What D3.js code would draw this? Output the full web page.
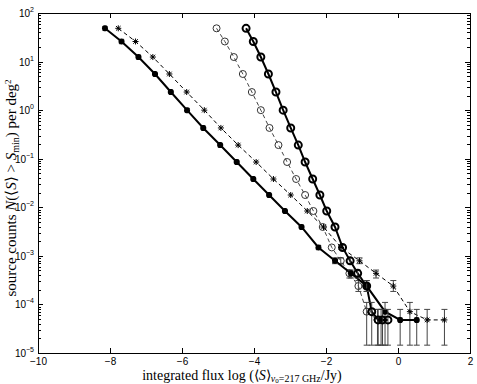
<!DOCTYPE html>
<meta charset="utf-8">
<head>
	<script src="https://d3js.org/d3.v7.min.js"></script>
	<style>
		body {
			margin: 0;
			background: #fff;
		}
		.tick text {
			font: 10px "Liberation Sans", sans-serif;
			fill: #000;
		}
		.axis path,
		.axis line {
			fill: none;
			stroke: #000;
			shape-rendering: crispEdges;
		}
		.title {
			font-family: "Liberation Serif", serif;
			font-size: 15px;
			fill: #000;
		}
	</style>
</head>

<body>
	<div id="chart"></div>
</body>

<script type="text/javascript">
	// tick values
	var xTicks = [-10, -8, -6, -4, -2, 0, 2];
	var yTickExp = [-5, -4, -3, -2, -1, 0, 1, 2];

	// series 1: solid line, filled asterisks
	var flux1 = [-8.14, -7.68, -7.21, -6.75, -6.31, -5.86, -5.41, -4.94, -4.48, -4.02, -3.58, -3.14, -2.68, -2.21, -1.75, -1.31, -0.87, -0.36, 0.06, 0.52];
	var counts1 = [48.4, 25.9, 12.4, 5.55, 2.36, 1.0, 0.43, 0.191, 0.0855, 0.0382, 0.0179, 0.00838, 0.00393, 0.00149, 7.9e-4, 4.37e-4, 2.39e-4, 7.1e-5, 4.8e-5, 4.8e-5];

	// series 2: dashed line, thin asterisks
	var flux2 = [-7.77, -7.29, -6.81, -6.35, -5.87, -5.38, -4.92, -4.44, -3.94, -3.46, -2.98, -2.52, -2.07, -1.58, -1.07, -0.61, -0.13, 0.33, 0.81, 1.29];
	var counts2 = [48.4, 25.9, 12.4, 5.55, 2.36, 1.0, 0.43, 0.191, 0.0855, 0.0382, 0.0179, 0.00838, 0.00393, 0.00149, 7.9e-4, 4.37e-4, 2.39e-4, 7.1e-5, 4.8e-5, 4.8e-5];

	// series 3: dashed grey line, open circles
	var flux3 = [-5.04, -4.81, -4.56, -4.31, -4.06, -3.81, -3.57, -3.32, -3.08, -2.83, -2.58, -2.35, -2.09, -1.84, -1.59, -1.35, -1.10, -0.87, -0.57, -0.47];
	var counts3 = [48.4, 25.9, 12.4, 5.55, 2.36, 1.0, 0.43, 0.191, 0.0855, 0.0382, 0.0179, 0.00838, 0.00393, 0.00149, 7.9e-4, 4.37e-4, 2.39e-4, 7.1e-5, 4.8e-5, 4.8e-5];

	// series 4: bold solid line, bold circles
	var flux4 = [-4.22, -4.02, -3.81, -3.60, -3.39, -3.19, -2.98, -2.77, -2.58, -2.37, -2.17, -1.98, -1.75, -1.54, -1.33, -1.12, -0.87, -0.73, -0.55, -0.43, -0.28];
	var counts4 = [48.4, 25.9, 12.4, 5.55, 2.36, 1.0, 0.43, 0.191, 0.0855, 0.0382, 0.0179, 0.00838, 0.00393, 0.00149, 7.9e-4, 4.37e-4, 2.39e-4, 7.1e-5, 4.8e-5, 4.8e-5, 4.8e-5];

	// error bars for the low count levels
	var errCounts = [7.9e-4, 4.37e-4, 2.39e-4, 7.1e-5, 4.8e-5];
	var errLow = [6.9e-4, 3.5e-4, 1.85e-4, 1.45e-5, 1.45e-5];
	var errHigh = [9.1e-4, 5.1e-4, 3.1e-4, 1.1e-4, 7.9e-5];

	var series = [
		{flux: flux3, counts: counts3, line: "#444", width: 1, dash: "4,3", marker: "circle", mcolor: "#333", mwidth: 1},
		{flux: flux2, counts: counts2, line: "#000", width: 1, dash: "4,3", marker: "star", mcolor: "#000", mwidth: 1},
		{flux: flux1, counts: counts1, line: "#000", width: 2, dash: null, marker: "star", mcolor: "#000", mwidth: 2},
		{flux: flux4, counts: counts4, line: "#000", width: 2, dash: null, marker: "circle", mcolor: "#000", mwidth: 2}
	];

	var margin = {top: 13, right: 7, bottom: 31, left: 38},
		width = 477 - margin.left - margin.right,
		height = 384 - margin.top - margin.bottom;

	var svg = d3.select("#chart").append("svg")
		.attr("width", 477)
		.attr("height", 384)
		.append("g")
		.attr("transform", "translate(" + margin.left + "," + margin.top + ")");

	var xScale = d3.scaleLinear().domain([-10, 2]).range([0, width]);
	var yScale = d3.scaleLog().domain([1e-5, 1e2]).range([height, 0]);

	var yMajor = yTickExp.map(function(e) { return Math.pow(10, e); });
	var yMinor = [];
	yTickExp.slice(0, -1).forEach(function(e) {
		for (var k = 2; k < 10; k++) yMinor.push(k * Math.pow(10, e));
	});

	// axes: inward ticks on all four sides
	svg.append("g")
		.attr("class", "x axis")
		.attr("transform", "translate(0," + height + ")")
		.call(d3.axisBottom(xScale).tickValues(xTicks).tickSizeInner(-5).tickSizeOuter(0).tickPadding(5));

	svg.append("g")
		.attr("class", "axis")
		.call(d3.axisTop(xScale).tickValues(xTicks).tickSizeInner(-5).tickSizeOuter(0).tickFormat(""));

	svg.append("g")
		.attr("class", "axis")
		.call(d3.axisLeft(yScale).tickValues(yMajor).tickSizeInner(-5).tickSizeOuter(0).tickFormat(""));
	svg.append("g")
		.attr("class", "axis")
		.call(d3.axisLeft(yScale).tickValues(yMinor).tickSizeInner(-3).tickSizeOuter(0).tickFormat(""));

	svg.append("g")
		.attr("class", "axis")
		.attr("transform", "translate(" + width + ",0)")
		.call(d3.axisRight(yScale).tickValues(yMajor).tickSizeInner(-5).tickSizeOuter(0).tickFormat(""));
	svg.append("g")
		.attr("class", "axis")
		.attr("transform", "translate(" + width + ",0)")
		.call(d3.axisRight(yScale).tickValues(yMinor).tickSizeInner(-3).tickSizeOuter(0).tickFormat(""));

	// y tick labels as 10^e
	var ylab = svg.append("g").selectAll("text")
		.data(yTickExp)
		.enter().append("text")
		.attr("x", -4)
		.attr("y", function(e) { return yScale(Math.pow(10, e)) + 4; })
		.style("text-anchor", "end")
		.style("font", "10px 'Liberation Sans', sans-serif");
	ylab.append("tspan").text("10");
	ylab.append("tspan")
		.attr("dy", -5)
		.style("font-size", "7px")
		.text(function(e) { return e < 0 ? "\u2212" + (-e) : e; });

	// lines
	var line = d3.line()
		.x(function(d) { return xScale(d[0]); })
		.y(function(d) { return yScale(d[1]); });

	series.forEach(function(s) {
		var pts = s.flux.map(function(f, i) { return [f, s.counts[i]]; });

		svg.append("path")
			.datum(pts)
			.attr("d", line)
			.style("fill", "none")
			.style("stroke", s.line)
			.style("stroke-width", s.width)
			.style("stroke-dasharray", s.dash);

		// error bars
		var eb = svg.append("g")
			.selectAll("g")
			.data(pts.filter(function(d) { return errCounts.indexOf(d[1]) >= 0; }))
			.enter().append("g")
			.style("stroke", "#444")
			.style("stroke-width", 1);
		eb.append("line")
			.attr("x1", function(d) { return xScale(d[0]); })
			.attr("x2", function(d) { return xScale(d[0]); })
			.attr("y1", function(d) { return yScale(errLow[errCounts.indexOf(d[1])]); })
			.attr("y2", function(d) { return yScale(errHigh[errCounts.indexOf(d[1])]); });
		[errLow, errHigh].forEach(function(arr) {
			eb.append("line")
				.attr("x1", function(d) { return xScale(d[0]) - 3; })
				.attr("x2", function(d) { return xScale(d[0]) + 3; })
				.attr("y1", function(d) { return yScale(arr[errCounts.indexOf(d[1])]); })
				.attr("y2", function(d) { return yScale(arr[errCounts.indexOf(d[1])]); });
		});

		// markers
		var m = svg.append("g")
			.selectAll("g")
			.data(pts)
			.enter().append("g")
			.attr("transform", function(d) { return "translate(" + xScale(d[0]) + "," + yScale(d[1]) + ")"; });
		if (s.marker == "circle") {
			m.append("circle")
				.attr("r", 3.5)
				.style("fill", "none")
				.style("stroke", s.mcolor)
				.style("stroke-width", s.mwidth);
		} else {
			m.append("path")
				.attr("d", "M-3,0H3M0,-3V3M-2.3,-2.3L2.3,2.3M-2.3,2.3L2.3,-2.3")
				.style("fill", "none")
				.style("stroke", s.mcolor)
				.style("stroke-width", s.mwidth);
		}
	});

	// axis titles
	var xt = svg.append("text")
		.attr("class", "title")
		.attr("x", width / 2 - 12)
		.attr("y", height + 27)
		.style("text-anchor", "middle")
		.style("font-size", "14px");
	xt.append("tspan").text("integrated flux log (\u27e8");
	xt.append("tspan").style("font-style", "italic").text("S");
	xt.append("tspan").text("\u27e9");
	xt.append("tspan").attr("dy", 1.5).style("font-size", "10px").style("font-style", "italic").text("\u03bd");
	xt.append("tspan").attr("dy", 1).style("font-size", "7px").text("0");
	xt.append("tspan").attr("dy", -1).style("font-size", "10px").text("=217 GHz");
	xt.append("tspan").attr("dy", -1.5).text("/Jy)");

	var yt = svg.append("text")
		.attr("class", "title")
		.attr("transform", "translate(-22," + (height / 2 + 5) + ")rotate(-90)")
		.style("text-anchor", "middle");
	yt.append("tspan").text("source counts ");
	yt.append("tspan").style("font-style", "italic").text("N");
	yt.append("tspan").text("(\u27e8");
	yt.append("tspan").style("font-style", "italic").text("S");
	yt.append("tspan").text("\u27e9 > ");
	yt.append("tspan").style("font-style", "italic").text("S");
	yt.append("tspan").attr("dy", 3).style("font-size", "10px").text("min");
	yt.append("tspan").attr("dy", -3).text(") per deg");
	yt.append("tspan").attr("dy", -5).style("font-size", "9px").text("2");
</script>
